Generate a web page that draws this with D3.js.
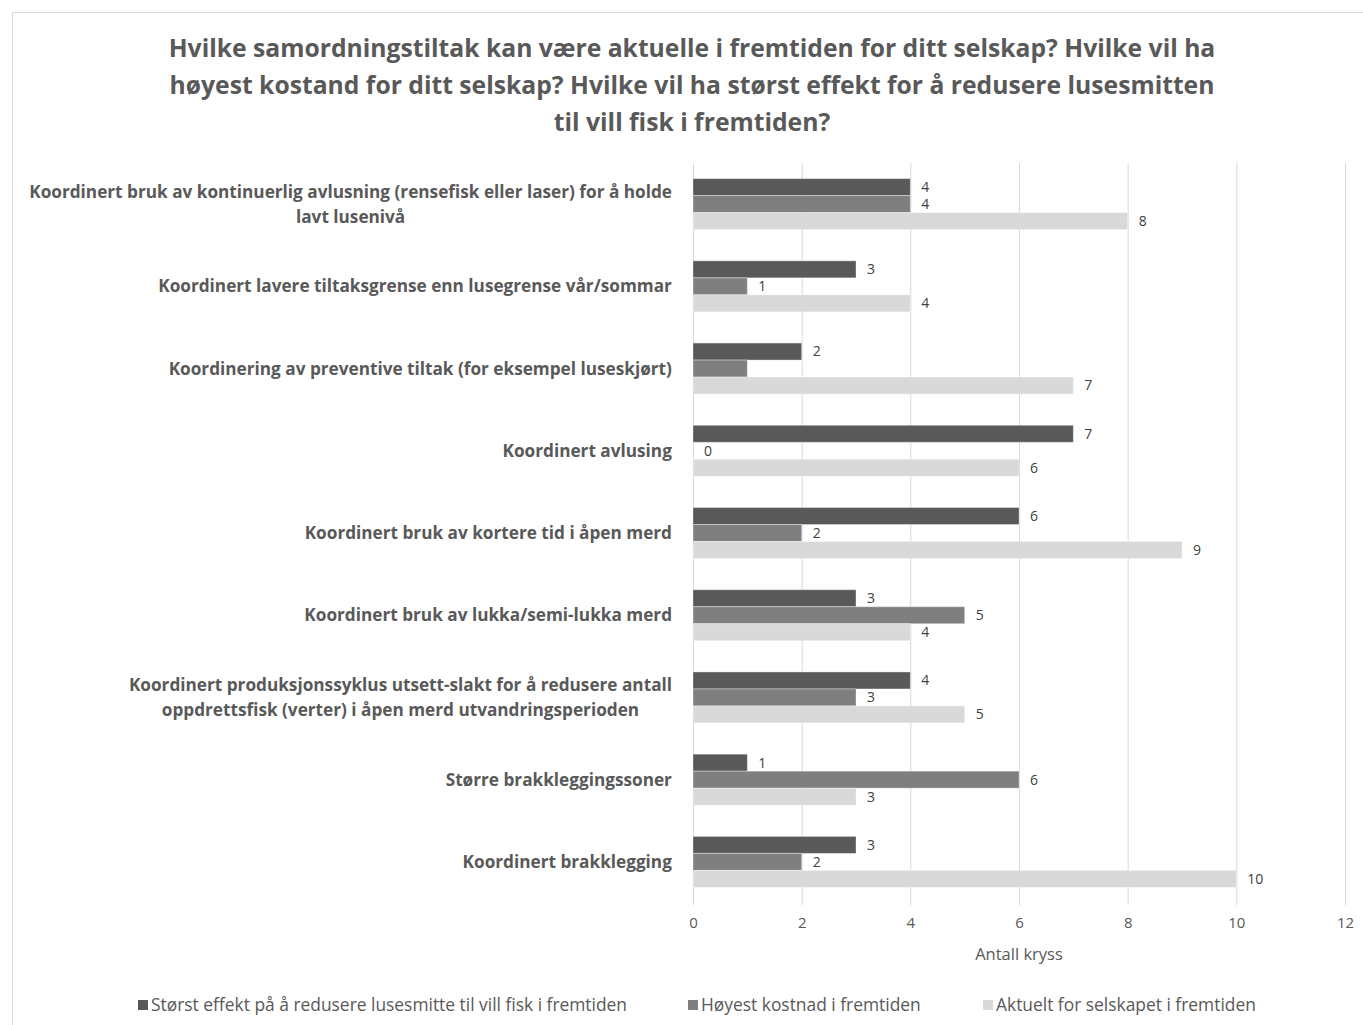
<!DOCTYPE html>
<html>
<head>
<meta charset="utf-8">
<script src="https://cdn.jsdelivr.net/npm/d3@7"></script>
<style>
  body { margin: 0; background: #fff; }
  text { font-family: "Open Sans", "Noto Sans", sans-serif; }
</style>
</head>
<body>
<script>
// chart data
var categories = [
  "Koordinert bruk av kontinuerlig avlusning (rensefisk eller laser) for å holde\nlavt lusenivå",
  "Koordinert lavere tiltaksgrense enn lusegrense vår/sommar",
  "Koordinering av preventive tiltak (for eksempel luseskjørt)",
  "Koordinert avlusing",
  "Koordinert bruk av kortere tid i åpen merd",
  "Koordinert bruk av lukka/semi-lukka merd",
  "Koordinert produksjonssyklus utsett-slakt for å redusere antall\noppdrettsfisk (verter) i åpen merd utvandringsperioden",
  "Større brakkleggingssoner",
  "Koordinert brakklegging"
];
var seriesNames = [
  "Størst effekt på å redusere lusesmitte til vill fisk i fremtiden",
  "Høyest kostnad i fremtiden",
  "Aktuelt for selskapet i fremtiden"
];
var effekt = [4, 3, 2, 7, 6, 3, 4, 1, 3];
var kostnad = [4, 1, 1, 0, 2, 5, 3, 6, 2];
var aktuelt = [8, 4, 7, 6, 9, 4, 5, 3, 10];
// labels the original chart leaves out: [category index, series index]
var hiddenLabels = [[2, 1]];
var xTicks = [0, 2, 4, 6, 8, 10, 12];
var titleLines = [
  "Hvilke samordningstiltak kan være aktuelle i fremtiden for ditt selskap? Hvilke vil ha",
  "høyest kostand for ditt selskap? Hvilke vil ha størst effekt for å redusere lusesmitten",
  "til vill fisk i fremtiden?"
];
var xTitle = "Antall kryss";

var W = 1363, H = 1025;
var PLOT_L = 693, PLOT_R = 1345, PLOT_T = 163, PLOT_B = 903;
var COLORS = ["#595959", "#7f7f7f", "#d9d9d9"];
var TEXT = "#595959";

var series = [effekt, kostnad, aktuelt];

var svg = d3.select("body").append("svg")
  .attr("width", W)
  .attr("height", H);

svg.append("rect")
  .attr("x", 12.5).attr("y", 12.5)
  .attr("width", W).attr("height", H)
  .attr("fill", "#fff")
  .attr("stroke", "#d9d9d9");

// title
svg.append("g").selectAll("text")
  .data(titleLines)
  .enter()
  .append("text")
  .attr("x", 692)
  .attr("y", function (d, i) { return 57 + i * 37; })
  .attr("text-anchor", "middle")
  .attr("font-size", "24.7px")
  .attr("font-weight", "bold")
  .attr("fill", TEXT)
  .text(function (d) { return d; });

var x = d3.scaleLinear().domain([0, 12]).range([PLOT_L, PLOT_R]);
var y = d3.scaleBand()
  .domain(d3.range(categories.length))
  .range([PLOT_T, PLOT_B])
  .paddingInner(0.38)
  .paddingOuter(0.19);
var ySub = d3.scaleBand()
  .domain(d3.range(series.length))
  .range([0, y.bandwidth()]);

// gridlines
svg.append("g").selectAll("line")
  .data(xTicks)
  .enter()
  .append("line")
  .attr("x1", function (d) { return x(d) + 0.5; })
  .attr("x2", function (d) { return x(d) + 0.5; })
  .attr("y1", PLOT_T)
  .attr("y2", PLOT_B + 2)
  .attr("stroke", "#d9d9d9")
  .attr("stroke-width", 1);

// x axis tick labels
var xAxis = d3.axisBottom(x).tickValues(xTicks).tickSize(0).tickPadding(0);
var gx = svg.append("g")
  .attr("transform", "translate(0," + 917 + ")")
  .call(xAxis);
gx.select(".domain").remove();
gx.selectAll("text")
  .attr("font-family", "'Open Sans', sans-serif")
  .attr("font-size", "15px")
  .attr("fill", TEXT);

svg.append("text")
  .attr("x", (PLOT_L + PLOT_R) / 2)
  .attr("y", 960)
  .attr("text-anchor", "middle")
  .attr("font-size", "16.5px")
  .attr("fill", TEXT)
  .text(xTitle);

// bars
var barData = [];
categories.forEach(function (c, i) {
  series.forEach(function (s, j) {
    barData.push({ cat: i, ser: j, value: s[i] });
  });
});

svg.append("g").selectAll("rect")
  .data(barData)
  .enter()
  .append("rect")
  .attr("x", x(0))
  .attr("y", function (d) { return y(d.cat) + ySub(d.ser); })
  .attr("width", function (d) { return x(d.value) - x(0); })
  .attr("height", ySub.bandwidth())
  .attr("fill", function (d) { return COLORS[d.ser]; })
  .attr("stroke", "#fff")
  .attr("stroke-opacity", 0.35)
  .attr("stroke-width", 1);

// value labels
var isHidden = function (d) {
  return hiddenLabels.some(function (h) { return h[0] === d.cat && h[1] === d.ser; });
};
svg.append("g").selectAll("text")
  .data(barData.filter(function (d) { return !isHidden(d); }))
  .enter()
  .append("text")
  .attr("x", function (d) { return x(d.value) + 11; })
  .attr("y", function (d) { return y(d.cat) + ySub(d.ser) + ySub.bandwidth() / 2; })
  .attr("dy", "0.35em")
  .attr("font-size", "14px")
  .attr("fill", "#404040")
  .text(function (d) { return d.value; });

// category labels
var catG = svg.append("g").selectAll("g")
  .data(categories)
  .enter()
  .append("g");
catG.each(function (c, i) {
  var lines = c.split("\n");
  var g = d3.select(this);
  var cy = y(i) + y.bandwidth() / 2;
  var t = g.append("text")
    .attr("font-size", "17.2px")
    .attr("font-weight", "bold")
    .attr("fill", TEXT)
    .attr("text-anchor", "middle");
  lines.forEach(function (l, k) {
    t.append("tspan")
      .attr("x", 0)
      .attr("y", cy + (k - (lines.length - 1) / 2) * 25)
      .attr("dy", "0.35em")
      .text(l);
  });
  var w = t.node().getBBox().width;
  t.attr("transform", "translate(" + (672 - w / 2) + ",0)");
});

// legend
var legendX = [138, 688, 983];
var leg = svg.append("g").selectAll("g")
  .data(seriesNames)
  .enter()
  .append("g")
  .attr("transform", function (d, i) { return "translate(" + legendX[i] + ",1005)"; });
leg.append("rect")
  .attr("x", 0).attr("y", -5)
  .attr("width", 10).attr("height", 10)
  .attr("fill", function (d, i) { return COLORS[i]; });
leg.append("text")
  .attr("x", 13)
  .attr("dy", "0.35em")
  .attr("font-size", "17.4px")
  .attr("fill", TEXT)
  .text(function (d) { return d; });
</script>
</body>
</html>
